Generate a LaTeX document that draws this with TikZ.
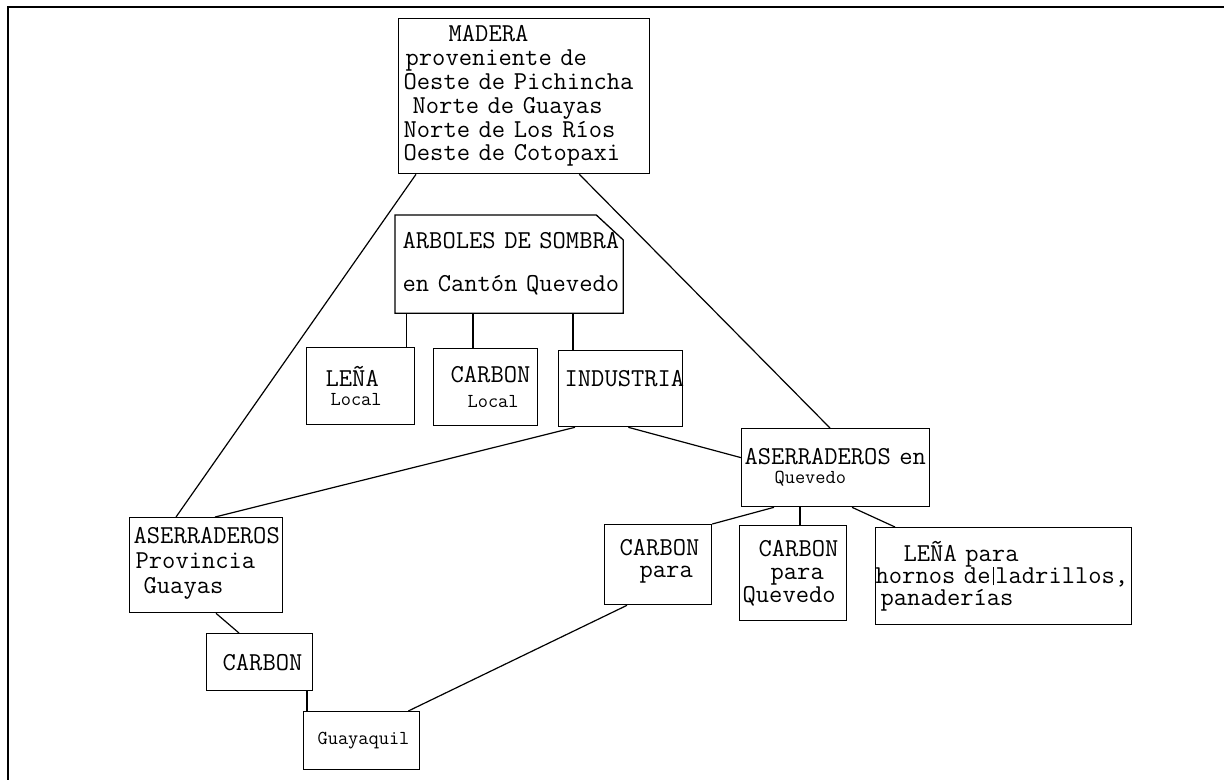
\documentclass[tikz,border=0pt]{standalone}
\newcommand{\tipo}[1]{\ttfamily\fontsize{25.8}{#1}\selectfont}
\newcommand{\chica}[1]{{\fontsize{19.8}{18}\selectfont #1}}

\begin{document}
\begin{tikzpicture}[x=1pt, y=-1pt,
    caja/.style={draw, line width=1.3pt, anchor=north west, inner sep=0pt, align=left},
    enlace/.style={line width=1.2pt}]
    \useasboundingbox (0,0) rectangle (1224,780);
    \draw[line width=1.5pt] (1224,7) -- (8,7) -- (8,780); % marco

    \node[caja, text width=251pt, minimum height=155pt, font=\tipo{23.8}] (madera) at (398,18)
        {\hspace*{50pt}MADERA\\ \hspace*{7pt}proveniente de\\ \hspace*{5pt}Oeste de Pichincha\\
         \hspace*{14pt}Norte de Guayas\\ \hspace*{5pt}Norte de Los Ríos\\ \hspace*{5pt}Oeste de Cotopaxi};
    \node[caja, draw=none, text width=227pt, minimum height=97pt, font=\tipo{43}] (arboles) at (395,215)
        {\hspace*{7pt}ARBOLES DE SOMBRA\\ \hspace*{7pt}en Cantón Quevedo};
    \draw[line width=1.3pt] (arboles.south west) -- (arboles.north west) -- ([xshift=-27pt]arboles.north east)
        -- ([yshift=-25pt]arboles.north east) -- (arboles.south east) -- cycle;

    \node[caja, text width=108pt, minimum height=77pt, font=\tipo{19}] (lenaL) at (306,347)
        {\hspace*{19pt}LEÑA\\ \hspace*{24pt}\chica{Local}};
    \node[caja, text width=104pt, minimum height=77pt, font=\tipo{25}] (carbonL) at (433,348)
        {\hspace*{17pt}CARBON\\ \hspace*{34pt}\chica{Local}};
    \node[caja, text width=124pt, minimum height=76pt, font=\tipo{20}] (industria) at (558,350)
        {\hspace*{6pt}INDUSTRIA\\ \mbox{}};

    \node[caja, text width=188pt, minimum height=78pt, font=\tipo{19}] (asqu) at (741,428)
        {\hspace*{3pt}ASERRADEROS en\\ \hspace*{33pt}\chica{Quevedo}};
    \node[caja, text width=153pt, minimum height=95pt, font=\tipo{25}] (aspg) at (129,517)
        {\hspace*{4pt}ASERRADEROS\\ \hspace*{6pt}Provincia\\ \hspace*{14pt}Guayas\\[-15pt] \mbox{}};
    \node[caja, text width=106pt, minimum height=57pt, font=\tipo{24}] (carbonG) at (206,633)
        {\hspace*{16pt}CARBON};
    \node[caja, text width=116pt, minimum height=58pt, font=\tipo{24}] (guayaquil) at (303,711)
        {\hspace*{14pt}\chica{Guayaquil}};

    \node[caja, text width=107pt, minimum height=80pt, font=\tipo{22}] (carbonP) at (604,524)
        {\hspace*{15pt}CARBON\\ \hspace*{35pt}para\\[-10pt] \mbox{}};
    \node[caja, text width=107pt, minimum height=95pt, font=\tipo{23}] (carbonQ) at (739,525)
        {\hspace*{19pt}CARBON\\ \hspace*{31pt}para\\ \hspace*{3pt}Quevedo};
    \node[caja, text width=256pt, minimum height=97pt, font=\tipo{22}] (lenaP) at (875,527)
        {\hspace*{28pt}LEÑA para\\
         \mbox{hornos de\kern2pt\rule[-2pt]{0.8pt}{18pt}\kern2pt ladrillos,}\\
         \hspace*{5pt}panaderías};

    % lineas
    \draw[enlace] ([xshift=18pt]madera.south west) -- ([xshift=47pt]aspg.north west);
    \draw[enlace] ([xshift=-71pt]madera.south east) -- ([xshift=89pt]asqu.north west);
    \draw[enlace] ([xshift=-9pt]lenaL.north east) -- ([xshift=-9pt]lenaL.north east |- arboles.south);
    \draw[enlace] ([xshift=40pt]carbonL.north west) -- ([xshift=40pt]carbonL.north west |- arboles.south);
    \draw[enlace] ([xshift=15pt]industria.north west) -- ([xshift=15pt]industria.north west |- arboles.south);
    \draw[enlace] ([xshift=17pt]industria.south west) -- ([xshift=86pt]aspg.north west);
    \draw[enlace] ([xshift=-55pt]industria.south east) -- ([yshift=10pt]asqu.west);
    \draw[enlace] ([xshift=33pt]asqu.south west) -- (carbonP.north east);
    \draw[enlace] ([xshift=59pt]asqu.south west) -- ([xshift=59pt]asqu.south west |- carbonQ.north);
    \draw[enlace] ([xshift=111pt]asqu.south west) -- ([xshift=20pt]lenaP.north west);
    \draw[enlace] ([xshift=23pt]carbonP.south west) -- ([xshift=-12pt]guayaquil.north east);
    \draw[enlace] ([xshift=87pt]aspg.south west) -- ([xshift=33pt]carbonG.north west);
    \draw[enlace] ([xshift=4pt]guayaquil.north west) -- ([xshift=4pt]guayaquil.north west |- carbonG.south);
\end{tikzpicture}
\end{document}
